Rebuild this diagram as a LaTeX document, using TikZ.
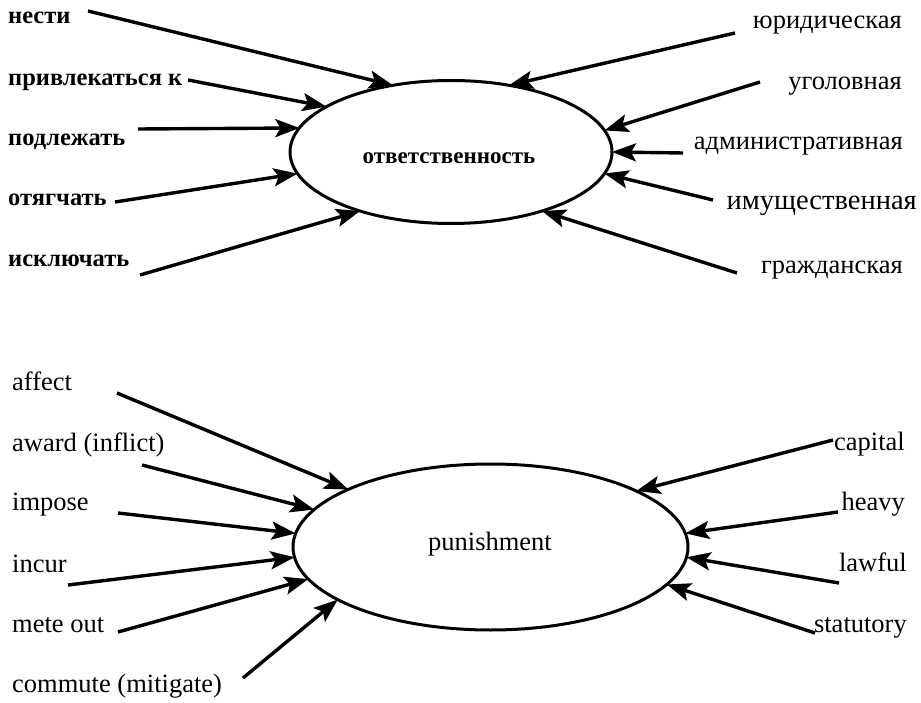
\documentclass[tikz,border=0pt]{standalone}
\usepackage{fontspec}
\setmainfont{Liberation Serif}
\usetikzlibrary{shapes.geometric,arrows.meta}
\begin{document}
\begin{tikzpicture}[x=1pt,y=-1pt,
  lbl/.style={inner sep=0pt, font=\fontsize{26.5}{28}\selectfont},
  lblb/.style={inner sep=0pt, font=\fontsize{24.5}{27}\selectfont\bfseries},
  oval/.style={draw, ellipse, line width=3pt, inner sep=0pt, outer sep=0pt},
  arr/.style={line width=3.4pt, -{Stealth[length=24pt,width=18pt,inset=5pt]}}]
\useasboundingbox (0,0) rectangle (921,703);

% ---------- top ellipse ----------
\node[oval, minimum width=322pt, minimum height=143pt] (resp) at (451,152) {};
\node[lblb, font=\fontsize{23}{26}\selectfont\bfseries, anchor=mid] (resptxt) at (449,161) {ответственность};

\node[lblb, anchor=mid west] (nesti) at (8,21) {нести};
\node[lblb, anchor=mid west] (privl) at (8,83) {привлекаться к};
\node[lblb, anchor=mid west] (podl) at (8,143) {подлежать};
\node[lblb, anchor=mid west] (otyag) at (8,203) {отягчать};
\node[lblb, anchor=mid west] (iskl) at (8,264) {исключать};

\node[lbl, anchor=mid east] (yur) at (902,26) {юридическая};
\node[lbl, anchor=mid east] (ugol) at (902,87) {уголовная};
\node[lbl, anchor=mid east] (adm) at (903,147) {административная};
\node[lbl, font=\fontsize{28.5}{30}\selectfont, anchor=mid east] (imu) at (917,207) {имущественная};
\node[lbl, anchor=mid east] (grazh) at (903,271) {гражданская};

\coordinate (tnesti) at (88,11);
\coordinate (tprivl) at (188,80);
\coordinate (tpodl) at (138,129);
\coordinate (totyag) at (115,202);
\coordinate (tiskl) at (140,275);
\coordinate (tyur) at (735,33);
\coordinate (tugol) at (760,82);
\coordinate (tadm) at (683,153);
\coordinate (timu) at (713,200);
\coordinate (tgrazh) at (737,273);

\draw[arr] (tnesti) -- (resp.131.5);
\draw[arr] (tprivl) -- (resp.160.8);
\draw[arr] (tpodl) -- (resp.171.5);
\draw[arr] (totyag) -- (resp.188.9);
\draw[arr] (tiskl) -- (resp.213.6);
\draw[arr] (tyur) -- (resp.49.3);
\draw[arr] (tugol) -- (resp.8.4);
\draw[arr] (tadm) -- (resp.0);
\draw[arr] (timu) -- (resp.-8.1);
\draw[arr] (tgrazh) -- (resp.-33.1);

% ---------- bottom ellipse ----------
\node[oval, minimum width=395pt, minimum height=166pt] (pun) at (490.5,547) {};
\node[lbl, anchor=mid] (puntxt) at (490,548) {punishment};

\node[lbl, anchor=mid west] (affect) at (12,388) {affect};
\node[lbl, anchor=mid west] (award) at (12,449) {award (inflict)};
\node[lbl, anchor=mid west] (impose) at (12,508) {impose};
\node[lbl, anchor=mid west] (incur) at (12,570) {incur};
\node[lbl, anchor=mid west] (mete) at (12,630) {mete out};
\node[lbl, anchor=mid west] (commute) at (12,690) {commute (mitigate)};

\node[lbl, anchor=mid east] (capital) at (905,448) {capital};
\node[lbl, anchor=mid east] (heavy) at (905,508) {heavy};
\node[lbl, anchor=mid east] (lawful) at (907,569) {lawful};
\node[lbl, anchor=mid east] (statutory) at (907,630) {statutory};

\coordinate (taffect) at (117,393);
\coordinate (taward) at (142,465);
\coordinate (timpose) at (118,513);
\coordinate (tincur) at (68,585);
\coordinate (tmete) at (118,632);
\coordinate (tcommute) at (243,678);
\coordinate (tcapital) at (833,440);
\coordinate (theavy) at (838,512);
\coordinate (tlawful) at (839,583);
\coordinate (tstatutory) at (815,633);

\draw[arr] (taffect) -- (pun.158.1);
\draw[arr] (taward) -- (pun.168.6);
\draw[arr] (timpose) -- (pun.176.5);
\draw[arr] (tincur) -- (pun.183.2);
\draw[arr] (tmete) -- (pun.190.4);
\draw[arr] (tcommute) -- (pun.199.5);
\draw[arr] (tcapital) -- (pun.21.1);
\draw[arr] (theavy) -- (pun.4);
\draw[arr] (tlawful) -- (pun.-3.7);
\draw[arr] (tstatutory) -- (pun.-12.7);
\end{tikzpicture}
\end{document}
